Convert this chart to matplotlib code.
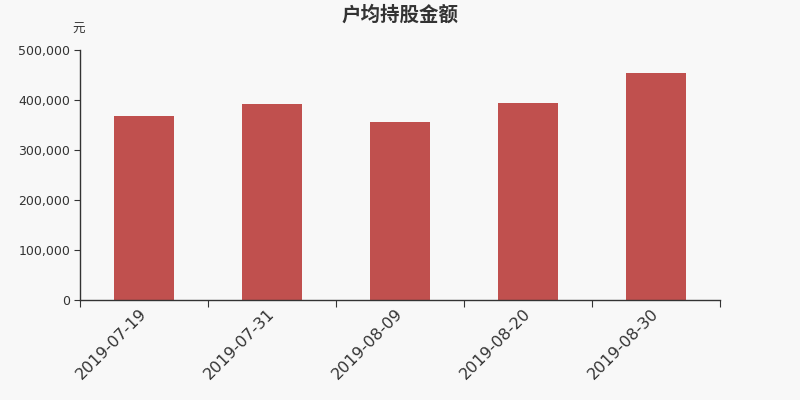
import numpy as np
import matplotlib.pyplot as plt
from matplotlib.ticker import FuncFormatter, FixedLocator

plt.rcParams['font.family'] = ['DejaVu Sans', 'Noto Sans CJK SC']

dates = ['2019-07-19', '2019-07-31', '2019-08-09', '2019-08-20', '2019-08-30']
amounts = [368000, 392000, 356000, 394000, 454000]

bg = '#f8f8f8'
fig = plt.figure(figsize=(8, 4), dpi=100, facecolor=bg)
ax = fig.add_axes([0.1, 0.25, 0.8, 0.625], facecolor=bg)

x = np.arange(len(dates))
ax.bar(x, amounts, width=0.47, color='#c0504e', zorder=2)

ax.set_xlim(-0.5, len(dates) - 0.5)
ax.set_ylim(0, 500000)
ax.yaxis.set_major_locator(FixedLocator(np.arange(0, 500001, 100000)))
ax.yaxis.set_major_formatter(FuncFormatter(lambda v, p: '{:,.0f}'.format(v)))

# ticks at category boundaries, labels at centers
ax.set_xticks(np.arange(-0.5, len(dates), 1.0))
ax.set_xticklabels([])
ax.set_xticks(x, minor=True)
ax.set_xticklabels(dates, minor=True, rotation=45, ha='right', va='center',
                   rotation_mode='anchor', fontsize=11.5, color='#333333')
ax.tick_params(axis='x', which='minor', length=0, pad=8)
ax.tick_params(axis='x', which='major', length=5, color='#333333')
ax.tick_params(axis='y', length=4, color='#333333', labelsize=9, labelcolor='#333333', pad=3)

for s in ['top', 'right']:
    ax.spines[s].set_visible(False)
for s in ['left', 'bottom']:
    ax.spines[s].set_color('#333333')
    ax.spines[s].set_linewidth(1)

fig.text(0.5, 0.963, '户均持股金额', ha='center', va='center', fontsize=14,
         fontweight='bold', color='#333333', family='Noto Sans CJK SC')
fig.text(0.098, 0.927, '元', ha='center', va='center', fontsize=9, color='#333333',
         family='Noto Sans CJK SC')

fig.savefig('out.png', dpi=100, facecolor=bg)
